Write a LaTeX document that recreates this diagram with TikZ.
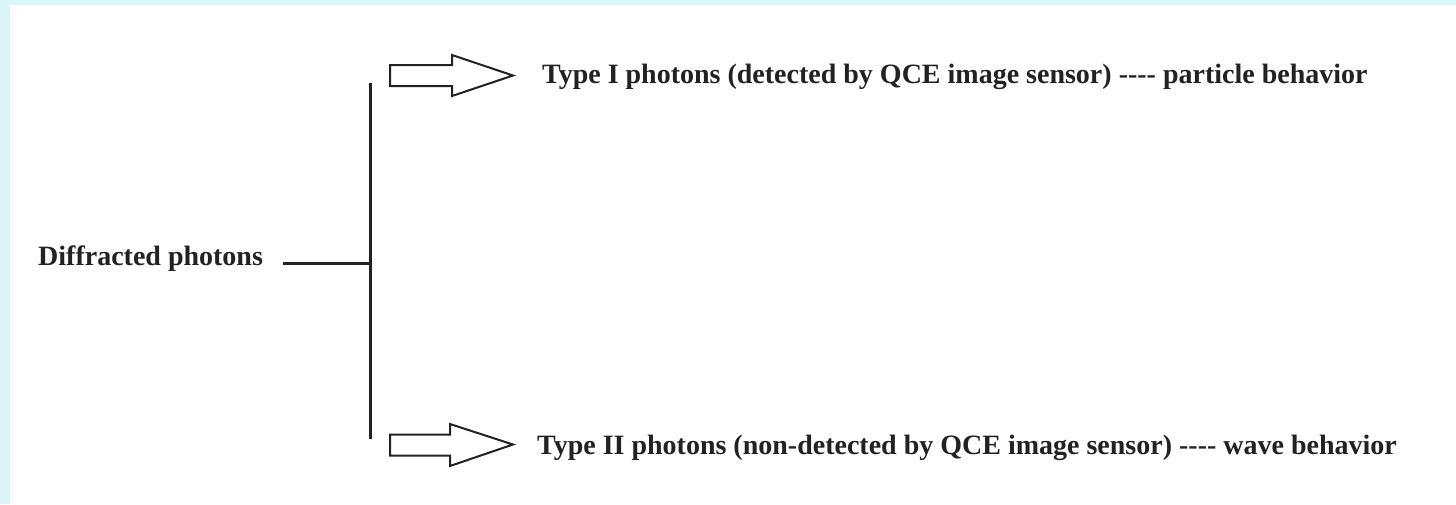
\documentclass[tikz,border=0pt]{standalone}
\usepackage{fontspec}
\setmainfont{Liberation Serif}
\definecolor{bgcyan}{HTML}{D9F5FA}
\definecolor{ink}{HTML}{222222}
\tikzset{
  lbl/.style={anchor=base west, inner sep=0pt, font=\fontsize{28}{32}\selectfont\bfseries, text=ink},
  bracket/.style={draw=ink, line width=3pt},
  blockarrow/.style={draw=ink, line width=2pt, fill=white, line join=miter}
}
\newcommand{\fourdash}{-{}-{}-{}-}
\begin{document}
\begin{tikzpicture}[x=1pt,y=-1pt]
\useasboundingbox (0,0) rectangle (1456,504);
\fill[bgcyan] (0,0) rectangle (1456,504);
\fill[white] (10,5) rectangle (1456,504);
% labels
\node[lbl] (src) at (38,265) {Diffracted photons};
\node[lbl] (t1) at (542,83) {Type I photons (detected by QCE image sensor) \fourdash{} particle behavior};
\node[lbl] (t2) at (537,454) {Type II photons (non-detected by QCE image sensor) \fourdash{} wave behavior};
% bracket
\coordinate (jn) at (370,263);
\coordinate (vtop) at (370,83);
\coordinate (vbot) at (370,439);
\draw[bracket] (283,263) -- (jn);
\draw[bracket] (vtop) -- (vbot);
% block arrows
\draw[blockarrow] (390,65) -- (452,65) -- (452,55) -- (513,75.5) -- (452,96) -- (452,86) -- (390,86) -- cycle;
\draw[blockarrow] (390,434.5) -- (450,434.5) -- (450,424) -- (513,444.5) -- (450,466) -- (450,455.5) -- (390,455.5) -- cycle;
\end{tikzpicture}
\end{document}
